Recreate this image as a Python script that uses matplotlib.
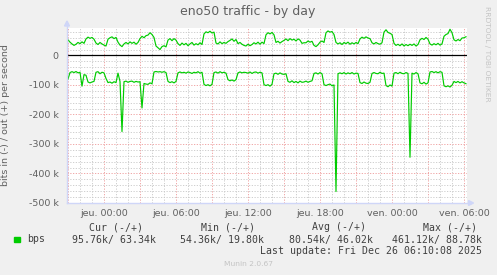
import datetime as dt
import numpy as np
import matplotlib
matplotlib.use("Agg")
import matplotlib.pyplot as plt
import matplotlib.dates as mdates
from matplotlib.ticker import MultipleLocator, FuncFormatter, FixedLocator
from matplotlib.patches import Polygon, Rectangle
from matplotlib.lines import Line2D

# samples every 10 minutes, Wed Dec 24 20:50 -> Fri Dec 26 06:10
start = dt.datetime(2025, 12, 24, 20, 50)
step_min = 10

# outgoing traffic (+), kbit/s
bps_out = [
    49, 53, 45, 39, 34, 38, 44, 40, 46, 41,
    56, 62, 58, 61, 55, 42, 37, 44, 39, 35,
    32, 55, 60, 63, 57, 61, 45, 35, 30, 39,
    44, 39, 46, 41, 45, 38, 44, 57, 65, 60,
    67, 69, 77, 71, 61, 32, 26, 20, 30, 33,
    29, 52, 57, 50, 57, 52, 40, 34, 42, 36,
    41, 33, 39, 44, 35, 40, 36, 43, 37, 73,
    80, 77, 82, 76, 79, 42, 39, 46, 40, 44,
    41, 47, 51, 56, 48, 54, 40, 44, 38, 34,
    32, 38, 33, 37, 43, 39, 45, 38, 45, 40,
    70, 77, 73, 78, 70, 44, 48, 42, 47, 51,
    56, 50, 57, 52, 55, 49, 56, 52, 41, 43,
    43, 49, 45, 48, 34, 30, 36, 45, 49, 44,
    77, 83, 79, 81, 71, 44, 39, 43, 37, 44,
    40, 45, 38, 43, 39, 44, 40, 56, 62, 58,
    63, 59, 57, 43, 39, 44, 40, 38, 43, 79,
    87, 78, 75, 71, 41, 34, 38, 33, 39, 32,
    37, 33, 38, 34, 39, 32, 37, 53, 58, 54,
    61, 55, 39, 35, 40, 36, 41, 35, 39, 65,
    71, 74, 88.78, 77, 53, 49, 54, 50, 59, 60,
    63.34,
]

# incoming traffic (-), kbit/s (magnitude, drawn negative)
bps_in = [
    83, 80, 58, 55, 58, 54.5, 59, 57, 104, 65,
    67, 90, 93, 90, 88, 57, 55, 62, 57, 59,
    78, 92, 90, 94, 89, 92, 60, 88, 258, 89,
    87, 91, 88, 87, 91, 88, 90, 89, 178, 95,
    97, 98, 93, 96, 56, 54.36, 56, 55, 57, 55,
    58, 88, 92, 89, 93, 88, 59, 56, 59, 57,
    60, 56, 58, 61, 57, 59, 55, 60, 57, 98,
    102, 99, 103, 98, 58, 56, 60, 55, 59, 57,
    60, 82, 86, 83, 87, 82, 59, 56, 59, 57,
    58, 60, 56, 61, 57, 56, 60, 57, 59, 99,
    102, 99, 104, 98, 62, 60, 64, 59, 63, 64,
    62, 88, 91, 86, 92, 88, 93, 87, 91, 90,
    87, 91, 88, 86, 61, 59, 63, 58, 62, 99,
    102, 99, 97, 103, 100, 461.12, 62, 59, 62, 58,
    63, 59, 62, 58, 63, 60, 61, 92, 95, 90,
    94, 95, 91, 61, 58, 61, 62, 57, 61, 60,
    102, 106, 100, 104, 60, 58, 62, 57, 61, 62,
    58, 61, 345, 60, 63, 58, 62, 93, 96, 91,
    97, 93, 56, 54.5, 58, 55, 59, 55, 57, 103,
    106, 103, 107, 101, 88, 92, 88, 93, 89, 93,
    95.76,
]

tick_times = [dt.datetime(2025, 12, 24, 21) + dt.timedelta(hours=3 * i) for i in range(12)]
tick_labels = ["", "jeu. 00:00", "", "jeu. 06:00", "", "jeu. 12:00",
               "", "jeu. 18:00", "", "ven. 00:00", "", "ven. 06:00"]

legend_headers = ["Cur (-/+)", "Min (-/+)", "Avg (-/+)", "Max (-/+)"]
legend_values = ["95.76k/ 63.34k", "54.36k/ 19.80k", "80.54k/ 46.02k", "461.12k/ 88.78k"]
last_update = "Last update: Fri Dec 26 06:10:08 2025"

W, H = 497, 275
FONT = "#606060"
AXIS = "#CFD6F8"
GREEN = "#00CC00"

times = [start + dt.timedelta(minutes=step_min * i) for i in range(len(bps_out))]
out_v = np.array(bps_out) * 1000
in_v = -np.array(bps_in) * 1000

fig = plt.figure(figsize=(W / 100, H / 100), dpi=100, facecolor="#F0F0F0")
ax = fig.add_axes([67 / W, 72 / H, 400 / W, 175 / H])
ax.set_facecolor("white")

ax.plot(times, out_v, color=GREEN, lw=0.85, zorder=4)
ax.plot(times, in_v, color=GREEN, lw=0.85, zorder=4)
ax.axhline(0, color="black", lw=0.9, zorder=3)

ax.set_xlim(dt.datetime(2025, 12, 24, 20, 55), dt.datetime(2025, 12, 26, 6, 15))
ax.set_ylim(-500e3, 93e3)

# grids: grey minor, pink major, both dotted
ax.xaxis.set_major_locator(FixedLocator(mdates.date2num(tick_times)))
ax.xaxis.set_major_formatter(FuncFormatter(lambda v, p: tick_labels[p] if p is not None and p < len(tick_labels) else ""))
ax.xaxis.set_minor_locator(mdates.HourLocator(interval=1))
ax.yaxis.set_major_locator(MultipleLocator(100e3))
ax.yaxis.set_minor_locator(MultipleLocator(20e3))
ax.yaxis.set_major_formatter(FuncFormatter(lambda v, p: "0" if abs(v) < 1 else f"{int(round(v / 1000))} k"))

ax.grid(which="minor", color="#C8C8C8", lw=0.6, ls=(0, (1.5, 1.8)), zorder=1)
ax.grid(which="major", color="#EE9A9A", lw=0.6, ls=(0, (1.5, 1.8)), zorder=2)

ax.tick_params(which="both", length=0)
ax.tick_params(axis="y", labelsize=6.8, labelcolor=FONT, pad=6)
ax.tick_params(axis="x", labelsize=6.8, labelcolor=FONT, pad=4)
for s in ax.spines.values():
    s.set_visible(False)

ax.set_ylabel("bits in (-) / out (+) per second", fontsize=6.8, color=FONT)
ax.yaxis.set_label_coords(-(67 - 10) / 400, 0.5)


def P(x, y):
    return (x / W, 1 - y / H)


# axes with arrows
fig.add_artist(Line2D([67 / W, 67 / W], [1 - 203 / H, 1 - 24 / H], color=AXIS, lw=1))
fig.add_artist(Line2D([67 / W, 470 / W], [1 - 203 / H, 1 - 203 / H], color=AXIS, lw=1))
fig.add_artist(Polygon([P(64.5, 26), P(69.5, 26), P(67, 21)], closed=True, color=AXIS, transform=fig.transFigure))
fig.add_artist(Polygon([P(468.5, 200.5), P(468.5, 205.5), P(473.5, 203)], closed=True, color=AXIS, transform=fig.transFigure))

fig.text(*P(248, 12), "eno50 traffic - by day", fontsize=9, color=FONT, ha="center", va="center")
fig.text(*P(487.5, 54), "RRDTOOL / TOBI OETIKER", fontsize=5.4, color="#C4C4C4",
         rotation=270, ha="center", va="center")

mono = "DejaVu Sans Mono"
for x, t in zip([89, 201, 312, 423], legend_headers):
    fig.text(*P(x, 227), t, family=mono, fontsize=7.1, color="#404040", ha="left", va="center")
fig.add_artist(Rectangle(P(14, 242), 6 / W, 5 / H, color=GREEN, transform=fig.transFigure))
fig.text(*P(26.7, 239.5), "bps", family=mono, fontsize=7.1, color="#404040", ha="left", va="center")
for x, t in zip([72.3, 180, 289.3, 391.7], legend_values):
    fig.text(*P(x, 239.5), t, family=mono, fontsize=7.1, color="#404040", ha="left", va="center")
fig.text(*P(482.5, 251.5), last_update, family=mono, fontsize=7.1, color="#404040", ha="right", va="center")
fig.text(*P(248, 264), "Munin 2.0.67", fontsize=5.4, color="#C4C4C4", ha="center", va="center")

fig.savefig("out.png", dpi=100, facecolor=fig.get_facecolor())
